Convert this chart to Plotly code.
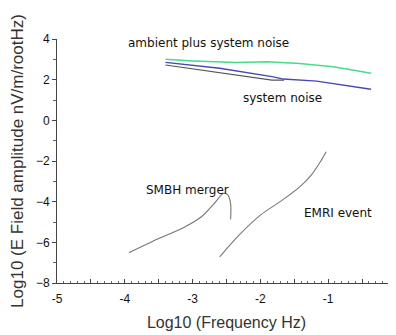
import plotly.graph_objects as go

# ambient plus system noise (green)
amb_x = [-3.40, -2.99, -2.36, -1.90, -1.42, -0.93, -0.64, -0.37]
amb_y = [3.00, 2.92, 2.84, 2.88, 2.80, 2.64, 2.48, 2.31]
# system noise (blue)
sys_x = [-3.40, -2.60, -1.83, -1.66, -1.17, -0.69, -0.37]
sys_y = [2.85, 2.56, 2.15, 2.03, 1.93, 1.70, 1.53]
# second noise trace (dark gray)
blk_x = [-3.40, -2.60, -1.83, -1.65]
blk_y = [2.72, 2.36, 1.98, 1.98]
# SMBH merger
smbh_x = [-3.94, -3.60, -3.11, -2.87, -2.68, -2.54, -2.48, -2.44, -2.44]
smbh_y = [-6.51, -5.97, -5.23, -4.74, -4.08, -3.59, -3.67, -4.08, -4.87]
# EMRI event
emri_x = [-2.60, -2.29, -2.00, -1.71, -1.42, -1.25, -1.13, -1.03]
emri_y = [-6.71, -5.56, -4.66, -4.00, -3.27, -2.69, -2.11, -1.54]

labels = ["ambient plus system noise", "system noise", "SMBH merger", "EMRI event"]
label_x = [-3.98, -2.29, -3.72, -1.38]
label_y = [3.8, 1.1, -3.43, -4.56]

x_tickvals = [-5, -4.5, -4, -3.5, -3, -2.5, -2, -1.5, -1, -0.5, 0]
x_ticktext = ["-5", "", "-4", "", "-3", "", "-2", "", "-1", "", "0"]
y_tickvals = [-8, -6, -4, -2, 0, 2, 4]

fig = go.Figure()
fig.add_trace(go.Scatter(x=blk_x, y=blk_y, mode="lines", line=dict(color="#555555", width=1.2)))
fig.add_trace(go.Scatter(x=sys_x, y=sys_y, mode="lines", line=dict(color="#4848b0", width=1.4)))
fig.add_trace(go.Scatter(x=amb_x, y=amb_y, mode="lines", line=dict(color="#45dd8a", width=1.5)))
fig.add_trace(go.Scatter(x=smbh_x, y=smbh_y, mode="lines", line=dict(color="#777777", width=1.1, shape="spline")))
fig.add_trace(go.Scatter(x=emri_x, y=emri_y, mode="lines", line=dict(color="#777777", width=1.1, shape="spline")))

for t, xx, yy in zip(labels, label_x, label_y):
    fig.add_annotation(x=xx, y=yy, text=t, showarrow=False, xanchor="left", yanchor="middle",
                       font=dict(family="DejaVu Sans", size=12, color="#111111"))

fig.update_layout(
    width=388, height=327,
    margin=dict(l=49, r=0, t=31, b=52),
    paper_bgcolor="white", plot_bgcolor="white",
    showlegend=False,
    xaxis=dict(range=[-5, 0], tickvals=x_tickvals, ticktext=x_ticktext, automargin=False,
               showgrid=False, zeroline=False, showline=True, linecolor="#444", linewidth=1,
               ticks="inside", ticklen=4, tickcolor="#444", ticklabelstandoff=5,
               minor=dict(dtick=0.1, ticks="inside", ticklen=2, tickcolor="#666", showgrid=False),
               tickfont=dict(family="Arial", size=12, color="#111"),
               title=dict(text="Log10 (Frequency Hz)", font=dict(family="Arial", size=16, color="#333"), standoff=11)),
    yaxis=dict(range=[-8, 4], tickvals=y_tickvals, automargin=False,
               showgrid=False, zeroline=False, showline=True, linecolor="#444", linewidth=1,
               ticks="outside", ticklen=4, tickcolor="#444",
               minor=dict(dtick=1, ticks="outside", ticklen=3, tickcolor="#666", showgrid=False),
               tickfont=dict(family="Arial", size=12, color="#111"),
               title=dict(text="Log10 (E Field amplitude nV/m/rootHz)", font=dict(family="Arial", size=17, color="#333"), standoff=7)),
)
fig.write_html("out.html")
